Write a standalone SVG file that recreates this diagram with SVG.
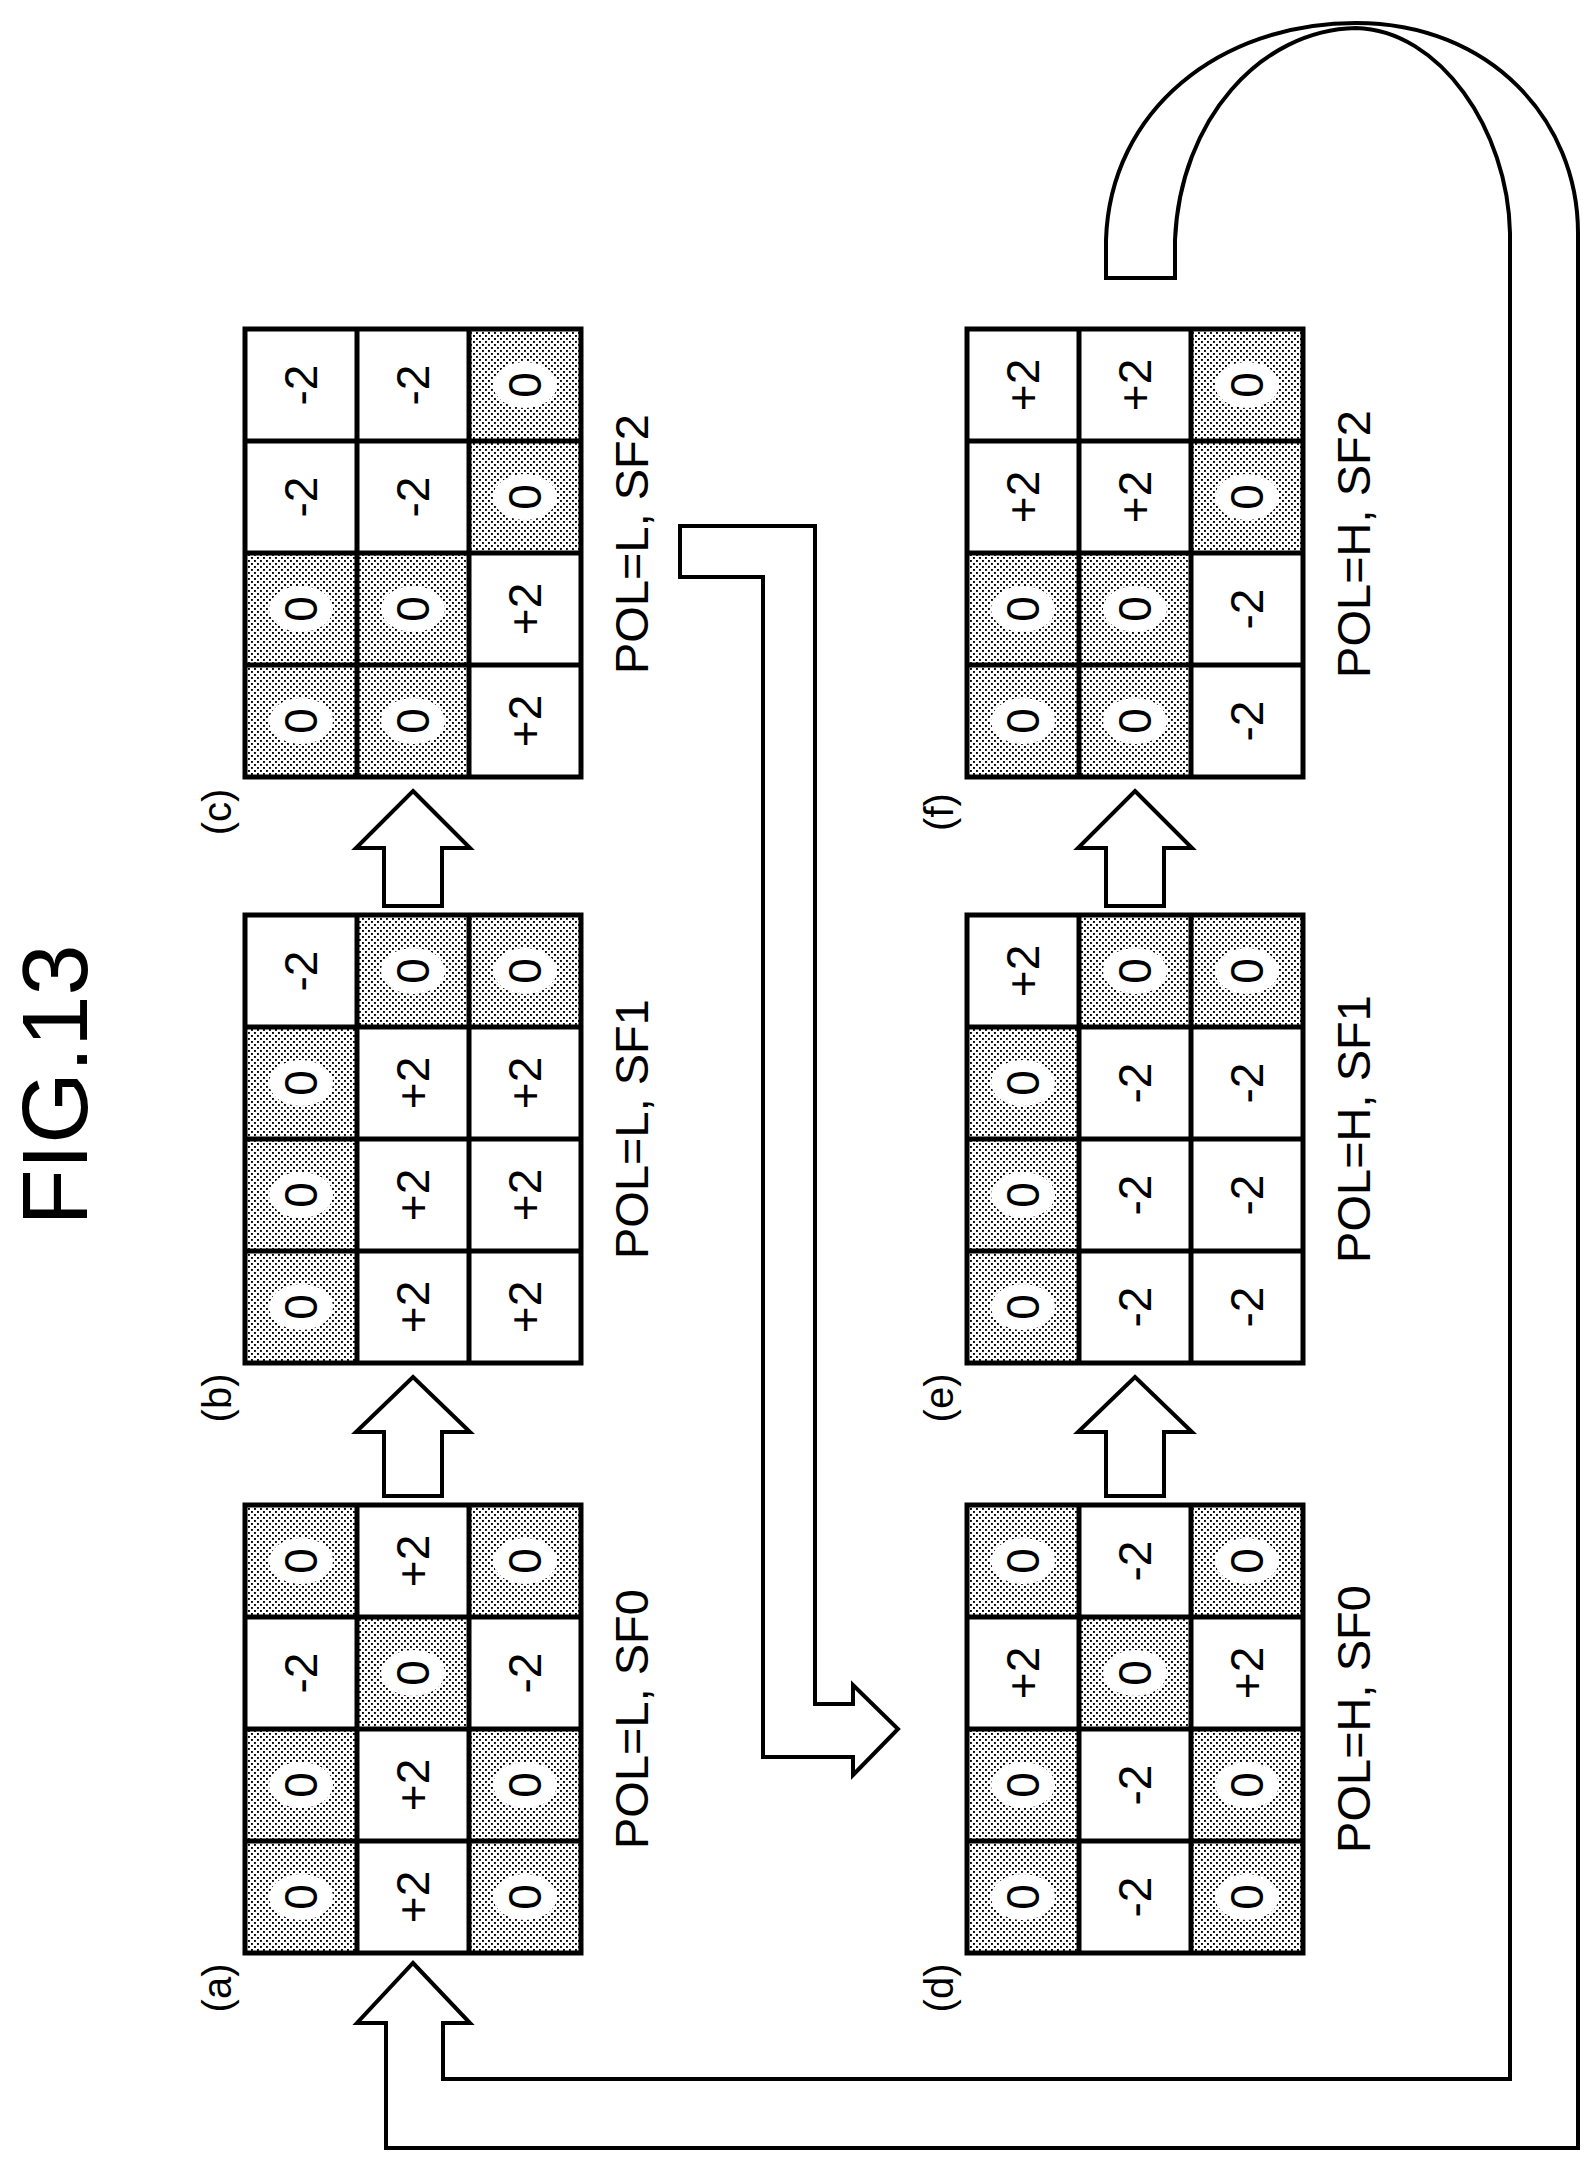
<svg xmlns="http://www.w3.org/2000/svg" width="1596" height="2171" viewBox="0 0 1596 2171">
<style>
text{font-family:"Liberation Sans",Arial,sans-serif;fill:#000;text-anchor:middle;dominant-baseline:central}
.n{font-size:46px}
.lb{font-size:40px}
.pl{font-size:47px}
.s{fill:url(#dots)}
.w{fill:#fff}
.g{fill:none;stroke:#000;stroke-width:5}
.ar{fill:#fff;stroke:#000;stroke-width:4;stroke-linejoin:miter}
</style>
<defs>
<pattern id="dots" width="6" height="6" patternUnits="userSpaceOnUse">
<rect width="6" height="6" fill="#fff"/>
<rect x="0" y="0" width="1.9" height="1.9" fill="#000"/>
<rect x="3" y="3" width="1.9" height="1.9" fill="#000"/>
</pattern>
</defs>
<rect width="1596" height="2171" fill="#fff"/>
<text x="55" y="1085" font-size="92" transform="rotate(-90 55 1085)">FIG.13</text>

<g id="grid-a" transform="translate(245,1505)">
<rect x="0" y="0" width="112" height="112" class="s"/><ellipse cx="56" cy="56" rx="32" ry="23" class="w"/><text class="n" x="56" y="56" transform="rotate(-90 56 56)">0</text>
<text class="n" x="168" y="56" transform="rotate(-90 168 56)">+2</text>
<rect x="224" y="0" width="112" height="112" class="s"/><ellipse cx="280" cy="56" rx="32" ry="23" class="w"/><text class="n" x="280" y="56" transform="rotate(-90 280 56)">0</text>
<text class="n" x="56" y="168" transform="rotate(-90 56 168)">-2</text>
<rect x="112" y="112" width="112" height="112" class="s"/><ellipse cx="168" cy="168" rx="32" ry="23" class="w"/><text class="n" x="168" y="168" transform="rotate(-90 168 168)">0</text>
<text class="n" x="280" y="168" transform="rotate(-90 280 168)">-2</text>
<rect x="0" y="224" width="112" height="112" class="s"/><ellipse cx="56" cy="280" rx="32" ry="23" class="w"/><text class="n" x="56" y="280" transform="rotate(-90 56 280)">0</text>
<text class="n" x="168" y="280" transform="rotate(-90 168 280)">+2</text>
<rect x="224" y="224" width="112" height="112" class="s"/><ellipse cx="280" cy="280" rx="32" ry="23" class="w"/><text class="n" x="280" y="280" transform="rotate(-90 280 280)">0</text>
<rect x="0" y="336" width="112" height="112" class="s"/><ellipse cx="56" cy="392" rx="32" ry="23" class="w"/><text class="n" x="56" y="392" transform="rotate(-90 56 392)">0</text>
<text class="n" x="168" y="392" transform="rotate(-90 168 392)">+2</text>
<rect x="224" y="336" width="112" height="112" class="s"/><ellipse cx="280" cy="392" rx="32" ry="23" class="w"/><text class="n" x="280" y="392" transform="rotate(-90 280 392)">0</text>
<path class="g" d="M0,0H336V448H0Z M112,0V448 M224,0V448 M0,112H336 M0,224H336 M0,336H336"/>
<text class="lb" x="-28" y="483" transform="rotate(-90 -28 483)">(a)</text>
<text class="pl" x="386" y="214" transform="rotate(-90 386 214)">POL=L, SF0</text>
</g>

<g id="grid-b" transform="translate(245,915)">
<text class="n" x="56" y="56" transform="rotate(-90 56 56)">-2</text>
<rect x="112" y="0" width="112" height="112" class="s"/><ellipse cx="168" cy="56" rx="32" ry="23" class="w"/><text class="n" x="168" y="56" transform="rotate(-90 168 56)">0</text>
<rect x="224" y="0" width="112" height="112" class="s"/><ellipse cx="280" cy="56" rx="32" ry="23" class="w"/><text class="n" x="280" y="56" transform="rotate(-90 280 56)">0</text>
<rect x="0" y="112" width="112" height="112" class="s"/><ellipse cx="56" cy="168" rx="32" ry="23" class="w"/><text class="n" x="56" y="168" transform="rotate(-90 56 168)">0</text>
<text class="n" x="168" y="168" transform="rotate(-90 168 168)">+2</text>
<text class="n" x="280" y="168" transform="rotate(-90 280 168)">+2</text>
<rect x="0" y="224" width="112" height="112" class="s"/><ellipse cx="56" cy="280" rx="32" ry="23" class="w"/><text class="n" x="56" y="280" transform="rotate(-90 56 280)">0</text>
<text class="n" x="168" y="280" transform="rotate(-90 168 280)">+2</text>
<text class="n" x="280" y="280" transform="rotate(-90 280 280)">+2</text>
<rect x="0" y="336" width="112" height="112" class="s"/><ellipse cx="56" cy="392" rx="32" ry="23" class="w"/><text class="n" x="56" y="392" transform="rotate(-90 56 392)">0</text>
<text class="n" x="168" y="392" transform="rotate(-90 168 392)">+2</text>
<text class="n" x="280" y="392" transform="rotate(-90 280 392)">+2</text>
<path class="g" d="M0,0H336V448H0Z M112,0V448 M224,0V448 M0,112H336 M0,224H336 M0,336H336"/>
<text class="lb" x="-28" y="483" transform="rotate(-90 -28 483)">(b)</text>
<text class="pl" x="386" y="214" transform="rotate(-90 386 214)">POL=L, SF1</text>
</g>

<g id="grid-c" transform="translate(245,329)">
<text class="n" x="56" y="56" transform="rotate(-90 56 56)">-2</text>
<text class="n" x="168" y="56" transform="rotate(-90 168 56)">-2</text>
<rect x="224" y="0" width="112" height="112" class="s"/><ellipse cx="280" cy="56" rx="32" ry="23" class="w"/><text class="n" x="280" y="56" transform="rotate(-90 280 56)">0</text>
<text class="n" x="56" y="168" transform="rotate(-90 56 168)">-2</text>
<text class="n" x="168" y="168" transform="rotate(-90 168 168)">-2</text>
<rect x="224" y="112" width="112" height="112" class="s"/><ellipse cx="280" cy="168" rx="32" ry="23" class="w"/><text class="n" x="280" y="168" transform="rotate(-90 280 168)">0</text>
<rect x="0" y="224" width="112" height="112" class="s"/><ellipse cx="56" cy="280" rx="32" ry="23" class="w"/><text class="n" x="56" y="280" transform="rotate(-90 56 280)">0</text>
<rect x="112" y="224" width="112" height="112" class="s"/><ellipse cx="168" cy="280" rx="32" ry="23" class="w"/><text class="n" x="168" y="280" transform="rotate(-90 168 280)">0</text>
<text class="n" x="280" y="280" transform="rotate(-90 280 280)">+2</text>
<rect x="0" y="336" width="112" height="112" class="s"/><ellipse cx="56" cy="392" rx="32" ry="23" class="w"/><text class="n" x="56" y="392" transform="rotate(-90 56 392)">0</text>
<rect x="112" y="336" width="112" height="112" class="s"/><ellipse cx="168" cy="392" rx="32" ry="23" class="w"/><text class="n" x="168" y="392" transform="rotate(-90 168 392)">0</text>
<text class="n" x="280" y="392" transform="rotate(-90 280 392)">+2</text>
<path class="g" d="M0,0H336V448H0Z M112,0V448 M224,0V448 M0,112H336 M0,224H336 M0,336H336"/>
<text class="lb" x="-28" y="483" transform="rotate(-90 -28 483)">(c)</text>
<text class="pl" x="386" y="215" transform="rotate(-90 386 215)">POL=L, SF2</text>
</g>

<g id="grid-d" transform="translate(967,1505)">
<rect x="0" y="0" width="112" height="112" class="s"/><ellipse cx="56" cy="56" rx="32" ry="23" class="w"/><text class="n" x="56" y="56" transform="rotate(-90 56 56)">0</text>
<text class="n" x="168" y="56" transform="rotate(-90 168 56)">-2</text>
<rect x="224" y="0" width="112" height="112" class="s"/><ellipse cx="280" cy="56" rx="32" ry="23" class="w"/><text class="n" x="280" y="56" transform="rotate(-90 280 56)">0</text>
<text class="n" x="56" y="168" transform="rotate(-90 56 168)">+2</text>
<rect x="112" y="112" width="112" height="112" class="s"/><ellipse cx="168" cy="168" rx="32" ry="23" class="w"/><text class="n" x="168" y="168" transform="rotate(-90 168 168)">0</text>
<text class="n" x="280" y="168" transform="rotate(-90 280 168)">+2</text>
<rect x="0" y="224" width="112" height="112" class="s"/><ellipse cx="56" cy="280" rx="32" ry="23" class="w"/><text class="n" x="56" y="280" transform="rotate(-90 56 280)">0</text>
<text class="n" x="168" y="280" transform="rotate(-90 168 280)">-2</text>
<rect x="224" y="224" width="112" height="112" class="s"/><ellipse cx="280" cy="280" rx="32" ry="23" class="w"/><text class="n" x="280" y="280" transform="rotate(-90 280 280)">0</text>
<rect x="0" y="336" width="112" height="112" class="s"/><ellipse cx="56" cy="392" rx="32" ry="23" class="w"/><text class="n" x="56" y="392" transform="rotate(-90 56 392)">0</text>
<text class="n" x="168" y="392" transform="rotate(-90 168 392)">-2</text>
<rect x="224" y="336" width="112" height="112" class="s"/><ellipse cx="280" cy="392" rx="32" ry="23" class="w"/><text class="n" x="280" y="392" transform="rotate(-90 280 392)">0</text>
<path class="g" d="M0,0H336V448H0Z M112,0V448 M224,0V448 M0,112H336 M0,224H336 M0,336H336"/>
<text class="lb" x="-28" y="483" transform="rotate(-90 -28 483)">(d)</text>
<text class="pl" x="386" y="214" transform="rotate(-90 386 214)">POL=H, SF0</text>
</g>

<g id="grid-e" transform="translate(967,915)">
<text class="n" x="56" y="56" transform="rotate(-90 56 56)">+2</text>
<rect x="112" y="0" width="112" height="112" class="s"/><ellipse cx="168" cy="56" rx="32" ry="23" class="w"/><text class="n" x="168" y="56" transform="rotate(-90 168 56)">0</text>
<rect x="224" y="0" width="112" height="112" class="s"/><ellipse cx="280" cy="56" rx="32" ry="23" class="w"/><text class="n" x="280" y="56" transform="rotate(-90 280 56)">0</text>
<rect x="0" y="112" width="112" height="112" class="s"/><ellipse cx="56" cy="168" rx="32" ry="23" class="w"/><text class="n" x="56" y="168" transform="rotate(-90 56 168)">0</text>
<text class="n" x="168" y="168" transform="rotate(-90 168 168)">-2</text>
<text class="n" x="280" y="168" transform="rotate(-90 280 168)">-2</text>
<rect x="0" y="224" width="112" height="112" class="s"/><ellipse cx="56" cy="280" rx="32" ry="23" class="w"/><text class="n" x="56" y="280" transform="rotate(-90 56 280)">0</text>
<text class="n" x="168" y="280" transform="rotate(-90 168 280)">-2</text>
<text class="n" x="280" y="280" transform="rotate(-90 280 280)">-2</text>
<rect x="0" y="336" width="112" height="112" class="s"/><ellipse cx="56" cy="392" rx="32" ry="23" class="w"/><text class="n" x="56" y="392" transform="rotate(-90 56 392)">0</text>
<text class="n" x="168" y="392" transform="rotate(-90 168 392)">-2</text>
<text class="n" x="280" y="392" transform="rotate(-90 280 392)">-2</text>
<path class="g" d="M0,0H336V448H0Z M112,0V448 M224,0V448 M0,112H336 M0,224H336 M0,336H336"/>
<text class="lb" x="-28" y="483" transform="rotate(-90 -28 483)">(e)</text>
<text class="pl" x="386" y="214" transform="rotate(-90 386 214)">POL=H, SF1</text>
</g>

<g id="grid-f" transform="translate(967,329)">
<text class="n" x="56" y="56" transform="rotate(-90 56 56)">+2</text>
<text class="n" x="168" y="56" transform="rotate(-90 168 56)">+2</text>
<rect x="224" y="0" width="112" height="112" class="s"/><ellipse cx="280" cy="56" rx="32" ry="23" class="w"/><text class="n" x="280" y="56" transform="rotate(-90 280 56)">0</text>
<text class="n" x="56" y="168" transform="rotate(-90 56 168)">+2</text>
<text class="n" x="168" y="168" transform="rotate(-90 168 168)">+2</text>
<rect x="224" y="112" width="112" height="112" class="s"/><ellipse cx="280" cy="168" rx="32" ry="23" class="w"/><text class="n" x="280" y="168" transform="rotate(-90 280 168)">0</text>
<rect x="0" y="224" width="112" height="112" class="s"/><ellipse cx="56" cy="280" rx="32" ry="23" class="w"/><text class="n" x="56" y="280" transform="rotate(-90 56 280)">0</text>
<rect x="112" y="224" width="112" height="112" class="s"/><ellipse cx="168" cy="280" rx="32" ry="23" class="w"/><text class="n" x="168" y="280" transform="rotate(-90 168 280)">0</text>
<text class="n" x="280" y="280" transform="rotate(-90 280 280)">-2</text>
<rect x="0" y="336" width="112" height="112" class="s"/><ellipse cx="56" cy="392" rx="32" ry="23" class="w"/><text class="n" x="56" y="392" transform="rotate(-90 56 392)">0</text>
<rect x="112" y="336" width="112" height="112" class="s"/><ellipse cx="168" cy="392" rx="32" ry="23" class="w"/><text class="n" x="168" y="392" transform="rotate(-90 168 392)">0</text>
<text class="n" x="280" y="392" transform="rotate(-90 280 392)">-2</text>
<path class="g" d="M0,0H336V448H0Z M112,0V448 M224,0V448 M0,112H336 M0,224H336 M0,336H336"/>
<text class="lb" x="-28" y="483" transform="rotate(-90 -28 483)">(f)</text>
<text class="pl" x="386" y="215" transform="rotate(-90 386 215)">POL=H, SF2</text>
</g>

<g id="connectors">
<polygon class="ar" points="413,1377 470,1432 442,1432 442,1496 384,1496 384,1432 356,1432"/>
<polygon class="ar" points="413,791 470,848 442,848 442,906 384,906 384,848 356,848"/>
<polygon class="ar" points="1135,1377 1192,1432 1164,1432 1164,1496 1106,1496 1106,1432 1078,1432"/>
<polygon class="ar" points="1135,791 1192,848 1164,848 1164,906 1106,906 1106,848 1078,848"/>
<path class="ar" d="M680,526 L815,526 L815,1704 L853,1704 L853,1685 L898,1729 L853,1775 L853,1757 L763,1757 L763,577 L680,577 Z"/>
<path class="ar" style="fill:none" d="M413,1963 L470,2023 L443,2023 L443,2079 L1510,2079 L1510,233 C1508,130 1440,30 1356,28 C1260,30 1180,120 1175,240 L1175,278 L1106,278 L1106,240 C1110,110 1220,23 1356,23 C1490,23 1578,120 1578,233 L1578,2148 L386,2148 L386,2023 L357,2023 Z"/>
</g>
</svg>
